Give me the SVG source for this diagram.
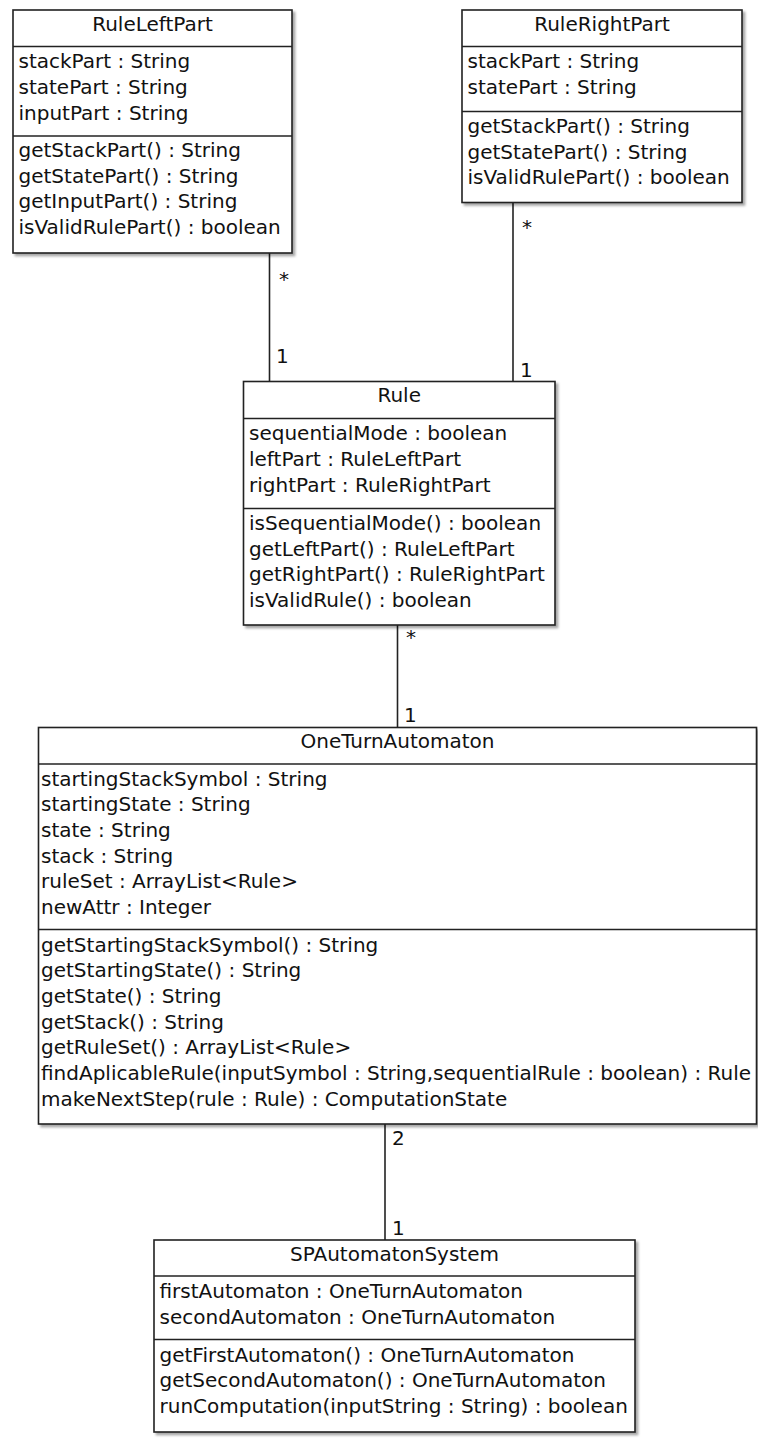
<svg xmlns="http://www.w3.org/2000/svg" width="758" height="1439" viewBox="0 0 758 1439">
  <defs>
    <filter id="shadow" x="-5%" y="-5%" width="112%" height="112%">
      <feDropShadow dx="2.5" dy="2.5" stdDeviation="1.2" flood-color="#000" flood-opacity="0.35"/>
    </filter>
  </defs>
  <style>
    .box { fill: #fff; stroke: #222; stroke-width: 1.6; filter: url(#shadow); }
    .sep { stroke: #222; stroke-width: 1.6; fill: none; }
    .edge { stroke: #222; stroke-width: 1.6; fill: none; }
    text { font-family: "DejaVu Sans", Verdana, sans-serif; font-size: 20px; fill: #111; }
    .title { text-anchor: middle; }
  </style>

  <!-- associations -->
  <g id="connectors">
    <line class="edge" x1="269.5" y1="253" x2="269.5" y2="381.5"/>
    <text x="279" y="286">*</text>
    <text x="276" y="363">1</text>

    <line class="edge" x1="513" y1="202.5" x2="513" y2="381.5"/>
    <text x="522" y="234">*</text>
    <text x="520" y="377">1</text>

    <line class="edge" x1="397.5" y1="625" x2="397.5" y2="727.5"/>
    <text x="406" y="644">*</text>
    <text x="404" y="722">1</text>

    <line class="edge" x1="385" y1="1124" x2="385" y2="1240"/>
    <text x="392" y="1145">2</text>
    <text x="392" y="1235">1</text>
  </g>

  <g id="RuleLeftPart">
    <rect class="box" x="13" y="10" width="279" height="243"/>
    <line class="sep" x1="13" y1="46.5" x2="292" y2="46.5"/>
    <line class="sep" x1="13" y1="136" x2="292" y2="136"/>
    <text class="title" x="152.5" y="31">RuleLeftPart</text>
    <text x="18.5" y="68">stackPart : String</text>
    <text x="18.5" y="94">statePart : String</text>
    <text x="18.5" y="120">inputPart : String</text>
    <text x="18.5" y="157">getStackPart() : String</text>
    <text x="18.5" y="182.7">getStatePart() : String</text>
    <text x="18.5" y="208.3">getInputPart() : String</text>
    <text x="18.5" y="234">isValidRulePart() : boolean</text>
  </g>

  <g id="RuleRightPart">
    <rect class="box" x="462" y="10" width="280" height="192.5"/>
    <line class="sep" x1="462" y1="46.5" x2="742" y2="46.5"/>
    <line class="sep" x1="462" y1="111.5" x2="742" y2="111.5"/>
    <text class="title" x="602" y="31">RuleRightPart</text>
    <text x="467.5" y="68">stackPart : String</text>
    <text x="467.5" y="94">statePart : String</text>
    <text x="467.5" y="133">getStackPart() : String</text>
    <text x="467.5" y="158.7">getStatePart() : String</text>
    <text x="467.5" y="184.4">isValidRulePart() : boolean</text>
  </g>

  <g id="Rule">
    <rect class="box" x="243.5" y="381.5" width="311.5" height="243.5"/>
    <line class="sep" x1="243.5" y1="418.5" x2="555" y2="418.5"/>
    <line class="sep" x1="243.5" y1="508.5" x2="555" y2="508.5"/>
    <text class="title" x="399.2" y="401.5">Rule</text>
    <text x="249" y="440">sequentialMode : boolean</text>
    <text x="249" y="466">leftPart : RuleLeftPart</text>
    <text x="249" y="491.7">rightPart : RuleRightPart</text>
    <text x="249" y="530">isSequentialMode() : boolean</text>
    <text x="249" y="555.5">getLeftPart() : RuleLeftPart</text>
    <text x="249" y="581">getRightPart() : RuleRightPart</text>
    <text x="249" y="606.5">isValidRule() : boolean</text>
  </g>

  <g id="OneTurnAutomaton">
    <rect class="box" x="38.5" y="727.5" width="718" height="396.5"/>
    <line class="sep" x1="38.5" y1="764" x2="756.5" y2="764"/>
    <line class="sep" x1="38.5" y1="929.5" x2="756.5" y2="929.5"/>
    <text class="title" x="397.5" y="748.3">OneTurnAutomaton</text>
    <text x="41" y="785.5">startingStackSymbol : String</text>
    <text x="41" y="811.2">startingState : String</text>
    <text x="41" y="836.9">state : String</text>
    <text x="41" y="862.6">stack : String</text>
    <text x="41" y="888.3">ruleSet : ArrayList&lt;Rule&gt;</text>
    <text x="41" y="914">newAttr : Integer</text>
    <text x="41" y="951.5">getStartingStackSymbol() : String</text>
    <text x="41" y="977.2">getStartingState() : String</text>
    <text x="41" y="1002.9">getState() : String</text>
    <text x="41" y="1028.6">getStack() : String</text>
    <text x="41" y="1054.3">getRuleSet() : ArrayList&lt;Rule&gt;</text>
    <text x="41" y="1080">findAplicableRule(inputSymbol : String,sequentialRule : boolean) : Rule</text>
    <text x="41" y="1105.7">makeNextStep(rule : Rule) : ComputationState</text>
  </g>

  <g id="SPAutomatonSystem">
    <rect class="box" x="154" y="1240" width="481" height="192"/>
    <line class="sep" x1="154" y1="1276" x2="635" y2="1276"/>
    <line class="sep" x1="154" y1="1339.5" x2="635" y2="1339.5"/>
    <text class="title" x="394.5" y="1260.7">SPAutomatonSystem</text>
    <text x="159.5" y="1298.3">firstAutomaton : OneTurnAutomaton</text>
    <text x="159.5" y="1324">secondAutomaton : OneTurnAutomaton</text>
    <text x="159.5" y="1361.7">getFirstAutomaton() : OneTurnAutomaton</text>
    <text x="159.5" y="1387.4">getSecondAutomaton() : OneTurnAutomaton</text>
    <text x="159.5" y="1413">runComputation(inputString : String) : boolean</text>
  </g>
</svg>
